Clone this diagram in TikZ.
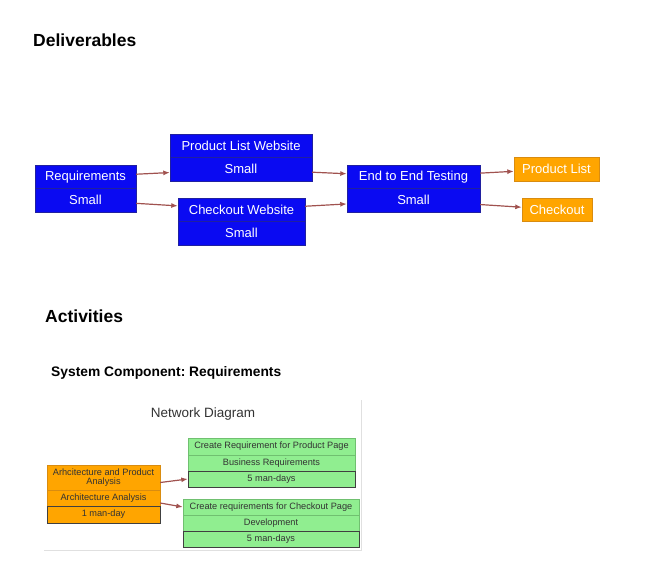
\documentclass[tikz,border=0pt]{standalone}
\usepackage{fontspec}
\setmainfont{Liberation Sans}
\usetikzlibrary{arrows.meta}
\definecolor{delivblue}{HTML}{0A0AF2}
\definecolor{delivedge}{HTML}{2020A0}
\definecolor{outorange}{HTML}{FFA500}
\definecolor{outedge}{HTML}{D98C10}
\definecolor{actgreen}{HTML}{90EE90}
\definecolor{actedge}{HTML}{70C070}
\definecolor{linkred}{HTML}{A0524F}
\frenchspacing
\tikzset{deliv/.style={draw=delivedge, fill=delivblue, text=white, inner sep=0pt,
        font=\fontsize{13}{15}\selectfont, minimum height=23.5pt},
    outcome/.style={draw=outedge, fill=outorange, text=white, inner sep=0pt,
        font=\fontsize{13}{15}\selectfont},
    actbox/.style={draw=actedge, fill=actgreen, text=black!80, inner sep=0pt,
        font=\fontsize{9.2}{9.5}\selectfont, minimum height=16pt},
    archbox/.style={actbox, draw=outedge, fill=outorange, minimum width=113pt},
    heading/.style={inner sep=0pt, font=\bfseries\fontsize{17.5}{20}\selectfont, anchor=base west},
    link/.style={draw=linkred, line width=1.2pt, ->, >={Latex[length=6.5pt,width=5pt]}}}

\begin{document}
\begin{tikzpicture}[x=1pt, y=-1pt]
    \useasboundingbox (0,0) rectangle (646,579);

    \node (hdeliv) [heading] at (33,46) {Deliverables};

    \node (req) at (85.5,176.75) [deliv, minimum width=101pt] {Requirements};
    \node (reqs) at (85.5,200.25) [deliv, minimum width=101pt] {Small};

    \node (plw) at (241,145.5) [deliv, minimum width=142pt] {Product List Website};
    \node (plws) at (241,169) [deliv, minimum width=142pt] {Small};

    \node (cow) at (241.5,209.75) [deliv, minimum width=127pt] {Checkout Website};
    \node (cows) at (241.5,233.25) [deliv, minimum width=127pt] {Small};

    \node (e2e) at (413.5,176.75) [deliv, minimum width=133pt] {End to End Testing};
    \node (e2es) at (413.5,200.25) [deliv, minimum width=133pt] {Small};

    \node (pl) at (556.5,169) [outcome, minimum width=85pt, minimum height=24pt] {Product List};
    \node (co) at (557,209.5) [outcome, minimum width=70pt, minimum height=23pt] {Checkout};

    \draw (req) edge [link] (plws);
    \draw (reqs) edge [link] (cow);
    \draw (plws) edge [link] (e2e);
    \draw (cow) edge [link] (e2es);
    \draw (e2e) edge [link] (pl);
    \draw (e2es) edge [link] (co);

    \node (hact) [heading] at (45,322) {Activities};
    \node (hcomp) [heading, font=\bfseries\fontsize{13.8}{16}\selectfont] at (51,376)
        {System Component: Requirements};

    \draw[black!12] (44,550) -- (361,550) -- (361,400);
    \node (netd) at (203,417) [anchor=base, inner sep=0pt, text=black!80,
        font=\fontsize{13.5}{15}\selectfont] {Network Diagram};

    \node (arch) at (103.5,477.5) [archbox, minimum height=25pt, align=center]
        {Arhcitecture and Product\\Analysis};
    \node (archa) at (103.5,498) [archbox] {Architecture Analysis};
    \node (archd) at (103.5,514.5) [archbox, draw=black!75, minimum height=17pt] {1 man-day};

    \node (crp) at (271.5,446.5) [actbox, minimum width=167pt, minimum height=17pt]
        {Create Requirement for Product Page};
    \node (crpr) at (271.5,463) [actbox, minimum width=167pt] {Business Requirements};
    \node (crpd) at (271.5,479) [actbox, draw=black!75, minimum width=167pt] {5 man-days};

    \node (crc) at (271,507) [actbox, minimum width=176pt] {Create requirements for Checkout Page};
    \node (crcr) at (271,523) [actbox, minimum width=176pt] {Development};
    \node (crcd) at (271,539) [actbox, draw=black!75, minimum width=176pt] {5 man-days};

    \draw ([yshift=-5pt]arch.east) edge [link] (crpd.west);
    \draw ([yshift=-5pt]archa.east) edge [link] (crc.west);
\end{tikzpicture}
\end{document}
